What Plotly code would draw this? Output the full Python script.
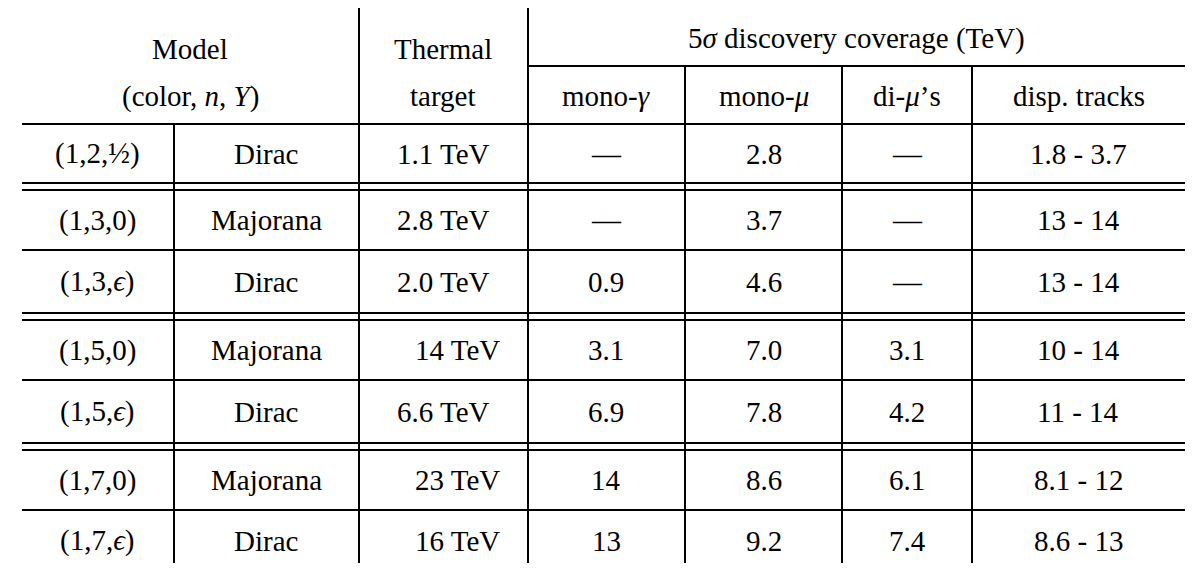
import plotly.graph_objects as go

# table data
models = ["(1,2,½)", "(1,3,0)", "(1,3,<i>ϵ</i>)", "(1,5,0)", "(1,5,<i>ϵ</i>)", "(1,7,0)", "(1,7,<i>ϵ</i>)"]
fermion = ["Dirac", "Majorana", "Dirac", "Majorana", "Dirac", "Majorana", "Dirac"]
thermal = ["1.1 TeV", "2.8 TeV", "2.0 TeV", "14 TeV", "6.6 TeV", "23 TeV", "16 TeV"]
mono_gamma = ["—", "—", "0.9", "3.1", "6.9", "14", "13"]
mono_mu = ["2.8", "3.7", "4.6", "7.0", "7.8", "8.6", "9.2"]
di_mu = ["—", "—", "—", "3.1", "4.2", "6.1", "7.4"]
disp_tracks = ["1.8 - 3.7", "13 - 14", "13 - 14", "10 - 14", "11 - 14", "8.1 - 12", "8.6 - 13"]

# the page body has an 8px margin, so the figure is shrunk and offset to match
W, H = 1179, 555
OFF = 8
FONT = dict(family="Liberation Serif", size=29, color="black")

col_x = [22, 174, 359, 528, 685, 842, 972, 1185]
row_top = [124, 190, 250, 320, 380, 450, 510]
row_bot = [183, 250, 313, 380, 443, 510, 571]

fig = go.Figure()
shapes = []

def hline(y, x0=col_x[0], x1=col_x[-1]):
    shapes.append(dict(type="line", x0=x0, x1=x1, y0=y, y1=y, line=dict(color="black", width=2)))

def vline(x, y0, y1):
    shapes.append(dict(type="line", x0=x, x1=x, y0=y0, y1=y1, line=dict(color="black", width=2)))

hline(66, col_x[3])
for y in [124, 183, 190, 250, 313, 320, 380, 443, 450, 510]:
    hline(y)
vline(col_x[1], 124, 575)
for x in [col_x[2], col_x[3]]:
    vline(x, 8, 575)
for x in col_x[4:7]:
    vline(x, 66, 575)

ann = []
def txt(x, y, s):
    ann.append(dict(x=x, y=y, text=s, showarrow=False, font=FONT, xanchor="center", yanchor="middle"))

# header
txt(190, 49, "Model")
txt(190, 96, "(color, <i>n</i>, <i>Y</i>)")
txt(443, 49, "Thermal")
txt(443, 96, "target")
txt(856, 38, "5<i>σ</i> discovery coverage (TeV)")
for i, s in enumerate(["mono-<i>γ</i>", "mono-<i>μ</i>", "di-<i>μ</i>’s", "disp. tracks"]):
    txt((col_x[3 + i] + col_x[4 + i]) / 2, 96, s)

cols = [models, fermion, thermal, mono_gamma, mono_mu, di_mu, disp_tracks]
centers = [97, 266, 443, 606, 764, 907, 1078]
for r in range(len(models)):
    yc = (row_top[r] + row_bot[r]) / 2
    for c, col in enumerate(cols):
        xc = centers[c] + (14 if c == 2 and col[r].startswith(("14", "23", "16")) else 0)
        txt(xc, yc, col[r])

fig.update_layout(
    width=W, height=H, margin=dict(l=0, r=0, t=0, b=0),
    plot_bgcolor="white", paper_bgcolor="white",
    xaxis=dict(range=[OFF, OFF + W], visible=False, fixedrange=True),
    yaxis=dict(range=[OFF + H, OFF], visible=False, fixedrange=True),
    shapes=shapes, annotations=ann, showlegend=False,
)
fig.write_html("out.html")
